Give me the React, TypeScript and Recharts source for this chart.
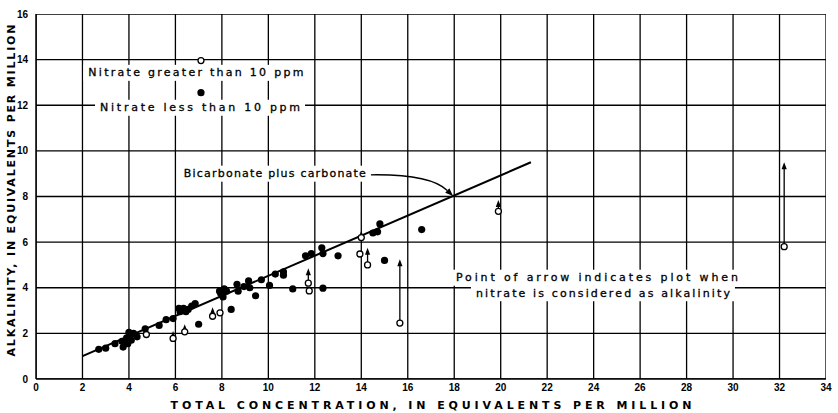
import React from 'react';
import { ComposedChart, Scatter, Line, XAxis, YAxis, ReferenceLine, ReferenceDot } from 'recharts';

const xTicks = [0, 2, 4, 6, 8, 10, 12, 14, 16, 18, 20, 22, 24, 26, 28, 30, 32, 34];
const yTicks = [0, 2, 4, 6, 8, 10, 12, 14, 16];

// bicarbonate plus carbonate line
const trendLine = [
  { x: 2, y: 1 },
  { x: 21.3, y: 9.5 },
];

// nitrate less than 10 ppm
const lowNitrate = [
  { x: 2.7, y: 1.3 }, { x: 3.0, y: 1.35 }, { x: 3.4, y: 1.55 }, { x: 3.75, y: 1.4 },
  { x: 3.7, y: 1.65 }, { x: 3.9, y: 1.8 }, { x: 4.05, y: 1.95 }, { x: 4.2, y: 2.0 },
  { x: 4.1, y: 1.7 }, { x: 4.35, y: 1.85 }, { x: 3.95, y: 1.55 }, { x: 4.0, y: 2.05 },
  { x: 4.7, y: 2.2 }, { x: 5.3, y: 2.35 }, { x: 5.6, y: 2.6 }, { x: 5.9, y: 2.65 },
  { x: 6.2, y: 2.95 }, { x: 6.35, y: 3.1 }, { x: 6.55, y: 3.05 }, { x: 6.7, y: 3.2 },
  { x: 6.85, y: 3.3 }, { x: 6.15, y: 3.1 }, { x: 6.45, y: 2.95 }, { x: 7.0, y: 2.4 },
  { x: 7.95, y: 3.75 }, { x: 8.05, y: 3.6 }, { x: 8.2, y: 3.85 }, { x: 7.9, y: 3.85 },
  { x: 8.1, y: 3.95 }, { x: 8.4, y: 3.05 }, { x: 8.65, y: 4.15 }, { x: 8.7, y: 3.85 },
  { x: 8.95, y: 4.05 }, { x: 9.15, y: 4.3 }, { x: 9.2, y: 4.0 }, { x: 9.45, y: 3.65 },
  { x: 9.7, y: 4.35 }, { x: 10.05, y: 4.1 }, { x: 10.3, y: 4.6 }, { x: 10.65, y: 4.7 },
  { x: 10.65, y: 4.55 }, { x: 11.05, y: 3.95 }, { x: 11.6, y: 5.4 }, { x: 11.85, y: 5.5 },
  { x: 12.3, y: 5.75 }, { x: 12.35, y: 5.5 }, { x: 12.35, y: 3.98 }, { x: 13.0, y: 5.4 },
  { x: 14.5, y: 6.4 }, { x: 14.7, y: 6.45 }, { x: 14.8, y: 6.8 }, { x: 15.0, y: 5.2 },
  { x: 16.6, y: 6.55 },
];

// nitrate greater than 10 ppm
const highNitrate = [
  { x: 4.75, y: 1.95 }, { x: 7.92, y: 2.9 }, { x: 11.76, y: 3.86 }, { x: 13.94, y: 5.48 },
  { x: 5.9, y: 1.78 }, { x: 6.4, y: 2.07 }, { x: 7.6, y: 2.75 }, { x: 11.72, y: 4.2 },
  { x: 14.27, y: 5.0 }, { x: 15.66, y: 2.45 }, { x: 19.9, y: 7.35 }, { x: 32.2, y: 5.8 },
  { x: 14.0, y: 6.2 },
];

// where the point goes when nitrate counts as alkalinity
const arrowFrom = [
  { x: 5.9, y: 1.78, tip: 2.1 },
  { x: 6.4, y: 2.07, tip: 2.4 },
  { x: 7.6, y: 2.75, tip: 3.15 },
  { x: 11.72, y: 4.2, tip: 4.85 },
  { x: 14.27, y: 5.0, tip: 5.75 },
  { x: 15.66, y: 2.45, tip: 5.25 },
  { x: 19.9, y: 7.35, tip: 7.85 },
  { x: 32.2, y: 5.8, tip: 9.5 },
  { x: 14.0, y: 6.2, tip: 6.5 },
];

const FONT = '"DejaVu Sans", sans-serif';

const OpenDot = (p: any) => (
  <circle cx={p.cx} cy={p.cy} r={3} fill="#fff" stroke="#000" strokeWidth={1.3} />
);
const FilledDot = (p: any) => <circle cx={p.cx} cy={p.cy} r={3.6} fill="#000" />;

const Arrow = (p: any) => {
  const top = Math.min(p.y1, p.y2);
  const bottom = Math.max(p.y1, p.y2);
  const x = p.x1;
  return (
    <g>
      <line x1={x} y1={bottom - 3} x2={x} y2={top + 3} stroke="#000" strokeWidth={1.3} />
      <path d={`M${x},${top} L${x - 2.6},${top + 7} L${x + 2.6},${top + 7} Z`} fill="#000" />
    </g>
  );
};

const CurvedArrow = (p: any) => {
  const { x1, y1, x2, y2 } = p;
  const qx = x1 + (x2 - x1) * 0.72;
  const qy = y1 - 1;
  const a = Math.atan2(y2 - qy, x2 - qx);
  const l = 8;
  const w = 3;
  const bx = x2 - l * Math.cos(a);
  const by = y2 - l * Math.sin(a);
  const px = -Math.sin(a) * w;
  const py = Math.cos(a) * w;
  return (
    <g>
      <path d={`M${x1},${y1} Q${qx},${qy} ${bx},${by}`} fill="none" stroke="#000" strokeWidth={1.3} />
      <path d={`M${x2},${y2} L${bx + px},${by + py} L${bx - px},${by - py} Z`} fill="#000" />
    </g>
  );
};

const Note = (p: any) => (
  <g>
    <rect x={p.cx - p.len / 2 - 5} y={p.cy - 8} width={p.len + 10} height={16} fill="#fff" />
    <text
      x={p.cx}
      y={p.cy}
      textAnchor="middle"
      dominantBaseline="central"
      textLength={p.len}
      lengthAdjust="spacing"
      fontSize={11}
      fontFamily={FONT}
      fill="#000"
      stroke="#000"
      strokeWidth={0.3}
    >
      {p.text}
    </text>
  </g>
);

const tickStyle = { fontSize: 10, fontWeight: 700, fill: '#000', fontFamily: '"Liberation Sans", sans-serif' };

export default function App() {
  return (
    <div style={{ position: 'absolute', left: 0, top: 0, background: '#fff' }}>
      <ComposedChart width={838} height={413} margin={{ top: 14, right: 12, bottom: 0, left: 0 }}>
        <XAxis
          type="number"
          dataKey="x"
          domain={[0, 34]}
          ticks={xTicks}
          height={34}
          tickLine={false}
          tickSize={3}
          axisLine={{ stroke: '#000', strokeWidth: 1.5 }}
          tick={tickStyle}
          allowDataOverflow
          label={{
            content: (lp: any) => {
              const vb = lp.viewBox;
              return (
                <text
                  x={vb.x + vb.width / 2}
                  y={405}
                  textAnchor="middle"
                  dominantBaseline="central"
                  textLength={521}
                  lengthAdjust="spacing"
                  fontSize={11}
                  fontWeight={700}
                  fontFamily={FONT}
                  fill="#000"
                >
                  TOTAL CONCENTRATION, IN EQUIVALENTS PER MILLION
                </text>
              );
            },
          }}
        />
        <YAxis
          type="number"
          dataKey="y"
          domain={[0, 16]}
          ticks={yTicks}
          width={36}
          tickLine={false}
          axisLine={{ stroke: '#000', strokeWidth: 1.5 }}
          tick={tickStyle}
          allowDataOverflow
          label={{
            content: (lp: any) => {
              const vb = lp.viewBox;
              const cy = vb.y + vb.height / 2 - 6;
              return (
                <text
                  x={11}
                  y={cy}
                  transform={`rotate(-90 11 ${cy})`}
                  textAnchor="middle"
                  dominantBaseline="central"
                  textLength={332}
                  lengthAdjust="spacing"
                  fontSize={11}
                  fontWeight={700}
                  fontFamily={FONT}
                  fill="#000"
                >
                  ALKALINITY, IN EQUIVALENTS PER MILLION
                </text>
              );
            },
          }}
        />

        {/* grid drawn as plain two-point lines through the axis scales */}
        {xTicks.map((t) => (
          <Line
            key={`gx${t}`}
            data={[{ x: t, y: 0 }, { x: t, y: 16 }]}
            dataKey="y"
            stroke="#000"
            strokeWidth={1.3}
            dot={false}
            activeDot={false}
            legendType="none"
            isAnimationActive={false}
          />
        ))}
        {yTicks.map((t) => (
          <Line
            key={`gy${t}`}
            data={[{ x: 0, y: t }, { x: 34, y: t }]}
            dataKey="y"
            stroke="#000"
            strokeWidth={1.3}
            dot={false}
            activeDot={false}
            legendType="none"
            isAnimationActive={false}
          />
        ))}

        <ReferenceDot x={6.88} y={13.42} r={0} shape={(p: any) => <Note {...p} len={215} text="Nitrate greater than 10 ppm" />} />
        <ReferenceDot x={7.06} y={11.89} r={0} shape={(p: any) => <Note {...p} len={200} text="Nitrate less than 10 ppm" />} />
        <ReferenceDot x={10.28} y={9.0} r={0} shape={(p: any) => <Note {...p} len={182} text="Bicarbonate plus carbonate" />} />
        <ReferenceDot x={24.14} y={4.44} r={0} shape={(p: any) => <Note {...p} len={282} text="Point of arrow indicates plot when" />} />
        <ReferenceDot x={24.4} y={3.76} r={0} shape={(p: any) => <Note {...p} len={254} text="nitrate is considered as alkalinity" />} />

        <ReferenceLine
          segment={[{ x: 14.4, y: 8.95 }, { x: 17.95, y: 8.02 }]}
          shape={(p: any) => <CurvedArrow {...p} />}
        />
        {arrowFrom.map((a, i) => (
          <ReferenceLine key={i} segment={[{ x: a.x, y: a.y }, { x: a.x, y: a.tip }]} shape={(p: any) => <Arrow {...p} />} />
        ))}

        <Line data={trendLine} dataKey="y" stroke="#000" strokeWidth={2} dot={false} activeDot={false} isAnimationActive={false} />
        <Scatter data={lowNitrate} dataKey="y" shape={FilledDot} isAnimationActive={false} />
        <Scatter data={highNitrate} dataKey="y" shape={OpenDot} isAnimationActive={false} />

        <ReferenceDot x={7.1} y={13.96} r={3} fill="#fff" stroke="#000" strokeWidth={1.3} />
        <ReferenceDot x={7.1} y={12.55} r={3.6} fill="#000" stroke="none" />
      </ComposedChart>
    </div>
  );
}
